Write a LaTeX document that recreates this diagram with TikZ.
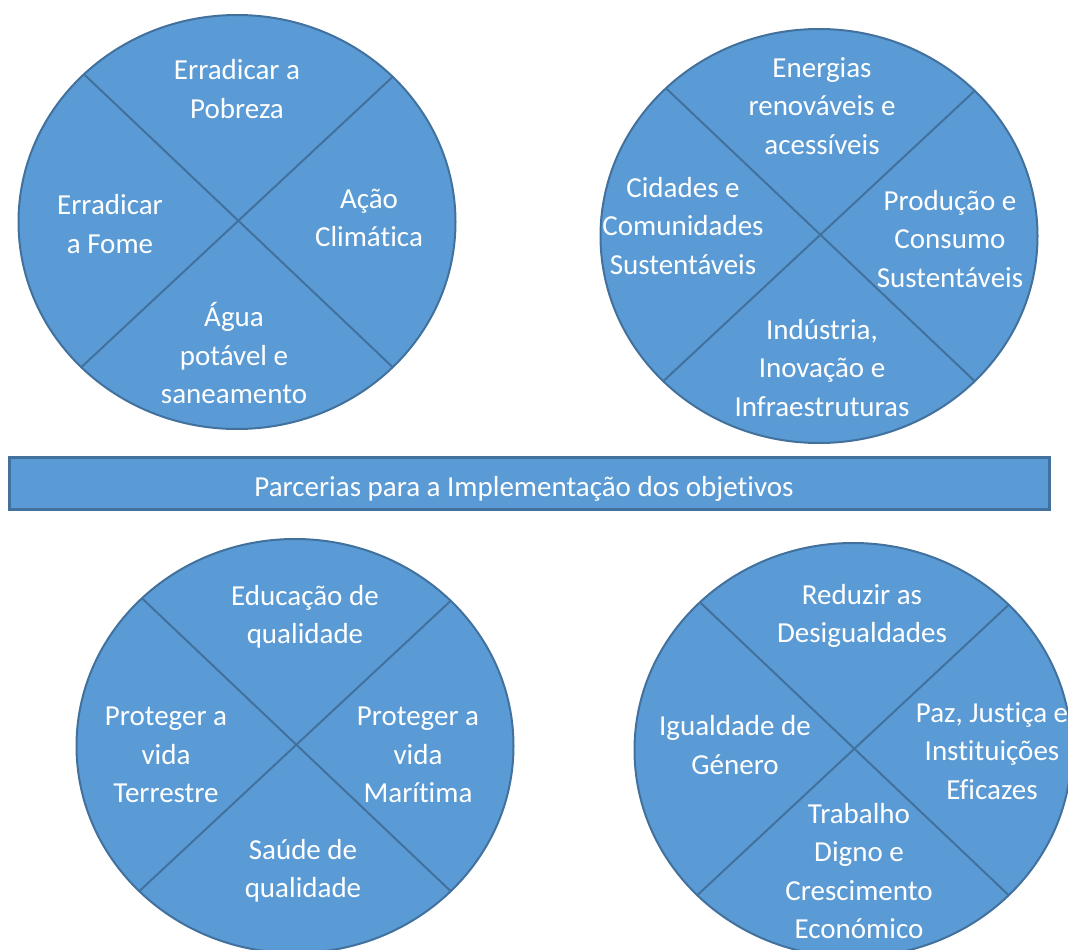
\documentclass[tikz,border=0pt]{standalone}
\usepackage{fontspec}
\setmainfont{Carlito}[Ligatures={NoCommon}]
\usepackage{tikz}
\usetikzlibrary{positioning, shapes.geometric}
\definecolor{ods-blue}{HTML}{5B9BD5}
\definecolor{ods-edge}{HTML}{41719C}

\begin{document}
\begin{tikzpicture}[x=1pt, y=-1pt,
		goal/.style={ellipse, draw=ods-edge, fill=ods-blue, line width=2pt, minimum width=437pt, minimum height=414pt, inner sep=0pt, outer sep=0pt},
		cut/.style={draw=ods-edge, line width=2pt},
		txt/.style={text=white, align=center, inner sep=0pt, font=\fontsize{29}{38.5}\selectfont},
		band/.style={rectangle, draw=ods-edge, fill=ods-blue, line width=3pt, minimum width=1040pt, minimum height=52pt, outer sep=0pt}]
			\useasboundingbox (0,0) rectangle (1068,950);
			\clip (0,0) rectangle (1068,950);
			% top left
			\node[goal] (fome) at (237,222) {};
			\draw[cut] (fome.136.5) -- (fome.-43.5) (fome.43.5) -- (fome.223.5);
			\node[txt] (fome-n) at (237,89) {Erradicar a\\Pobreza};
			\node[txt] (fome-w) at (110,224) {Erradicar\\a Fome};
			\node[txt] (fome-e) at (369,218) {Ação\\Climática};
			\node[txt] (fome-s) at (234,353) {Água\\potável e\\saneamento};
			% top right
			\node[goal] (cidade) at (819,236) {};
			\draw[cut] (cidade.136.5) -- (cidade.-43.5) (cidade.43.5) -- (cidade.223.5);
			\node[txt] (cidade-n) at (822,106) {Energias\\renováveis e\\acessíveis};
			\node[txt] (cidade-w) at (683,226) {Cidades e\\Comunidades\\Sustentáveis};
			\node[txt] (cidade-e) at (950,239) {Produção e\\Consumo\\Sustentáveis};
			\node[txt] (cidade-s) at (822,368) {Indústria,\\Inovação e\\Infraestruturas};
			% partnership band
			\node[band] (parceria) at (529.5,483.5) {};
			\node[txt] (parceria-t) at (524,489) {Parcerias para a Implementação dos objetivos};
			% bottom left
			\node[goal] (vida) at (295,746) {};
			\draw[cut] (vida.136.5) -- (vida.-43.5) (vida.43.5) -- (vida.223.5);
			\node[txt] (vida-n) at (305,617) {Educação de\\qualidade};
			\node[txt] (vida-w) at (166,755) {Proteger a\\vida\\Terrestre};
			\node[txt] (vida-e) at (418,755) {Proteger a\\vida\\Marítima};
			\node[txt] (vida-s) at (303,871) {Saúde de\\qualidade};
			% bottom right
			\node[goal] (paz) at (853,750) {};
			\draw[cut] (paz.136.5) -- (paz.-43.5) (paz.43.5) -- (paz.223.5);
			\node[txt] (paz-n) at (862,616) {Reduzir as\\Desigualdades};
			\node[txt] (paz-w) at (735,745) {Igualdade de\\Género};
			\node[txt] (paz-e) at (992,751) {Paz, Justiça e\\Instituições\\Eficazes};
			\node[txt] (paz-s) at (859,871) {Trabalho\\Digno e\\Crescimento\\Económico};
		\end{tikzpicture}
\end{document}
